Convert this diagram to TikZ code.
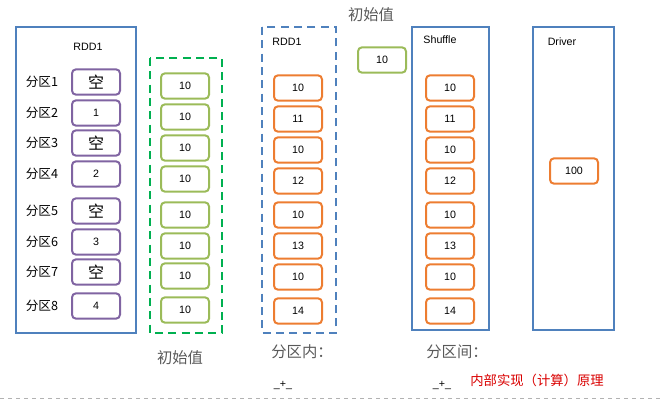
\documentclass[tikz,border=0pt]{standalone}
\usepackage{fontspec}
\setmainfont{Liberation Sans}
\newfontfamily\cjk{Noto Sans CJK SC}
\begin{document}
\begin{tikzpicture}[x=0.75pt,y=-0.75pt,
  cell/.style={draw=#1,line width=1.5pt,rounded corners=3pt,minimum width=36pt,minimum height=19pt,inner sep=0pt,font=\fontsize{8}{9}\selectfont},
  lab/.style={font=\fontsize{8}{9}\selectfont},
  cn/.style={font=\cjk\fontsize{11.5}{13}\selectfont,text=gray!70!black}]
\definecolor{pur}{RGB}{128,100,162}
\definecolor{grn}{RGB}{155,187,89}
\definecolor{org}{RGB}{237,125,49}
\definecolor{bl}{RGB}{79,129,189}
\definecolor{dg}{RGB}{0,176,80}
\useasboundingbox (0,0) rectangle (660,401);
\draw[draw=bl,line width=1.5pt] (16,27) rectangle (136,333);
\node[lab] (r1) at (88,47) {RDD1};
\foreach \y/\t/\n [count=\i] in {82/{\cjk\large 空}/1,113/1/2,143/{\cjk\large 空}/3,174/2/4,211/{\cjk\large 空}/5,242/3/6,272/{\cjk\large 空}/7,306/4/8}{
  \node[cell=pur] (p\i) at (96,\y) {\t};
  \node[font=\cjk\fontsize{9.5}{11}\selectfont] (pl\i) at (42,\y) {分区\n};
}
\draw[draw=dg,line width=1.8pt,dash pattern=on 6pt off 4pt] (150,58) rectangle (222,333);
\foreach \y [count=\i] in {86,117,148,179,215,246,276,310}{
  \node[cell=grn] (g\i) at (185,\y) {10};
}
\node[cn] (c1) at (180,358) {初始值};
\draw[draw=bl,line width=1.5pt,dash pattern=on 6pt off 4pt] (262,27) rectangle (336,333);
\node[lab] (r2) at (287,42) {RDD1};
\foreach \y/\t [count=\i] in {88/10,119/11,150/10,181/12,215/10,246/13,277/10,311/14}{
  \node[cell=org] (a\i) at (298,\y) {\t};
  \node[cell=org] (b\i) at (450,\y) {\t};
}
\node[cn] (c2) at (302,352) {分区内：};
\node[lab] (pl1x) at (283,385) {\_+\_};
\node[cell=grn] (gi) at (382,60) {10};
\node[cn] (c3) at (371,15) {初始值};
\draw[draw=bl,line width=1.5pt] (412,27) rectangle (489,330);
\node[lab] (sh) at (440,40) {Shuffle};
\draw[draw=bl,line width=1.5pt] (533,27) rectangle (614,330);
\node[lab] (dr) at (562,42) {Driver};
\node[cell=org] (d) at (574,171) {100};
\node[cn] (c4) at (457,352) {分区间：};
\node[lab] (pl2x) at (442,385) {\_+\_};
\node[font=\cjk\fontsize{10}{11}\selectfont,text=red!85!black] (rt) at (537,380) {内部实现（计算）原理};
\draw[gray!60,dashed] (0,398) -- (660,398);
\end{tikzpicture}
\end{document}
